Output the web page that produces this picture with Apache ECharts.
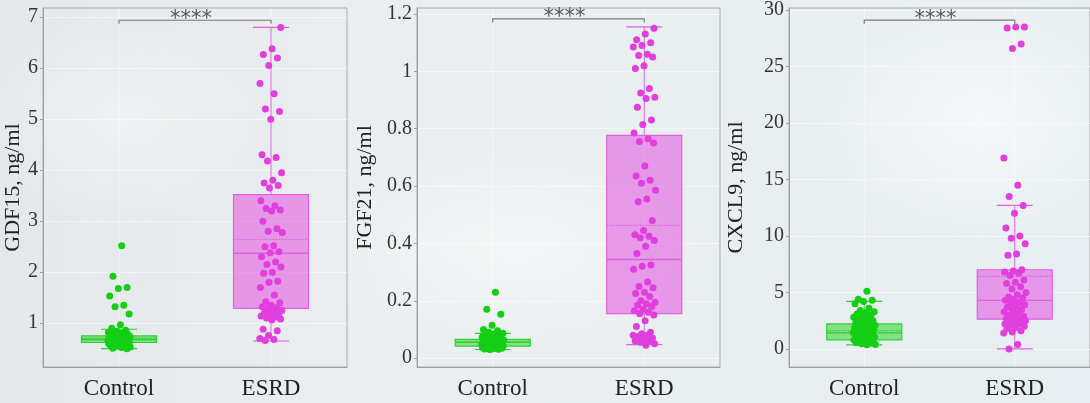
<!DOCTYPE html>
<html><head><meta charset="utf-8">
<script src="https://cdn.jsdelivr.net/npm/echarts@6/dist/echarts.min.js"></script>
<style>
html,body{margin:0;padding:0;width:1090px;height:403px;overflow:hidden;}
#c{width:1090px;height:403px;
background:
 radial-gradient(ellipse 260px 200px at 980px 120px, rgba(255,255,255,0.55), rgba(255,255,255,0) 70%),
 radial-gradient(ellipse 300px 160px at 520px 250px, rgba(255,255,255,0.45), rgba(255,255,255,0) 70%),
 radial-gradient(ellipse 200px 140px at 120px 120px, rgba(255,255,255,0.35), rgba(255,255,255,0) 70%),
 linear-gradient(90deg,#e5e8ea 0%,#ebeef0 35%,#e9eef0 60%,#e7eef1 100%);}
</style></head>
<body><div id="c"></div>
<script>
// ---------- data ----------
const categories = ['Control', 'ESRD'];
const yTitles = ['GDF15, ng/ml', 'FGF21, ng/ml', 'CXCL9, ng/ml'];
const sigLabel = '****';

const yTicks1 = [1, 2, 3, 4, 5, 6, 7];
const yTicks2 = [0, 0.2, 0.4, 0.6, 0.8, 1, 1.2];
const yTicks3 = [0, 5, 10, 15, 20, 25, 30];

// box stats: [min, Q1, median, Q3, max]
const box1 = [[0.50, 0.62, 0.68, 0.75, 0.88], [0.65, 1.29, 2.37, 3.52, 6.80]];
const box2 = [[0.030, 0.042, 0.055, 0.065, 0.086], [0.047, 0.155, 0.344, 0.777, 1.155]];
const box3 = [[0.35, 0.80, 1.42, 2.21, 4.21], [0.00, 2.63, 4.30, 7.01, 12.70]];
const mean1 = [0.70, 2.64];
const mean2 = [0.058, 0.463];
const mean3 = [1.62, 6.42];
const bracket1 = 6.94, bracket2 = 1.183, bracket3 = 29.1;

// individual points
const ctrl1 = [2.52, 1.92, 1.70, 1.68, 1.53, 1.35, 1.32, 1.18, 0.97, 0.90, 0.86, 0.84, 0.82, 0.80, 0.79, 0.78, 0.77, 0.76, 0.75, 0.75, 0.74, 0.73, 0.73, 0.72, 0.72, 0.71, 0.71, 0.70, 0.70, 0.69, 0.69, 0.68, 0.68, 0.67, 0.67, 0.66, 0.66, 0.65, 0.65, 0.64, 0.64, 0.63, 0.63, 0.62, 0.62, 0.61, 0.60, 0.60, 0.59, 0.58, 0.57, 0.56, 0.55, 0.54, 0.53, 0.52, 0.51, 0.50];
const esrd1 = [6.80, 6.38, 6.27, 6.20, 6.05, 5.70, 5.50, 5.20, 5.15, 5.00, 4.30, 4.25, 4.18, 3.95, 3.80, 3.75, 3.70, 3.65, 3.40, 3.30, 3.25, 3.22, 3.20, 3.00, 2.85, 2.80, 2.78, 2.52, 2.50, 2.40, 2.38, 2.30, 2.20, 2.15, 2.10, 2.00, 1.98, 1.82, 1.80, 1.70, 1.55, 1.42, 1.40, 1.35, 1.32, 1.30, 1.28, 1.25, 1.22, 1.20, 1.18, 1.16, 1.14, 1.12, 1.10, 1.08, 1.06, 0.88, 0.85, 0.76, 0.70, 0.68, 0.66];
const ctrl2 = [0.230, 0.170, 0.153, 0.115, 0.100, 0.095, 0.090, 0.087, 0.084, 0.081, 0.078, 0.076, 0.074, 0.072, 0.070, 0.068, 0.067, 0.066, 0.065, 0.064, 0.063, 0.062, 0.061, 0.060, 0.059, 0.058, 0.057, 0.056, 0.055, 0.054, 0.053, 0.052, 0.051, 0.050, 0.049, 0.048, 0.047, 0.046, 0.045, 0.044, 0.043, 0.042, 0.041, 0.040, 0.039, 0.038, 0.037, 0.036, 0.035, 0.034, 0.033, 0.032, 0.031, 0.030];
const esrd2 = [1.150, 1.130, 1.110, 1.100, 1.090, 1.085, 1.060, 1.055, 1.050, 1.020, 1.010, 0.940, 0.925, 0.910, 0.905, 0.875, 0.830, 0.815, 0.785, 0.765, 0.755, 0.750, 0.670, 0.635, 0.620, 0.610, 0.585, 0.555, 0.545, 0.480, 0.445, 0.430, 0.425, 0.420, 0.410, 0.390, 0.365, 0.325, 0.320, 0.310, 0.265, 0.250, 0.245, 0.230, 0.225, 0.215, 0.200, 0.195, 0.190, 0.185, 0.180, 0.170, 0.165, 0.160, 0.155, 0.150, 0.130, 0.110, 0.090, 0.085, 0.080, 0.080, 0.075, 0.070, 0.065, 0.060, 0.060, 0.055, 0.050, 0.045];
const ctrl3 = [5.10, 4.40, 4.30, 4.20, 4.00, 3.60, 3.40, 3.30, 3.20, 3.10, 3.00, 2.90, 2.80, 2.70, 2.60, 2.50, 2.40, 2.35, 2.30, 2.20, 2.10, 2.05, 2.00, 1.95, 1.90, 1.85, 1.80, 1.75, 1.70, 1.65, 1.60, 1.55, 1.50, 1.45, 1.40, 1.35, 1.30, 1.25, 1.20, 1.15, 1.10, 1.05, 1.00, 0.95, 0.90, 0.85, 0.80, 0.75, 0.70, 0.65, 0.60, 0.55, 0.50, 0.45, 0.40, 0.38];
const esrd3 = [28.5, 28.5, 28.4, 27.0, 26.6, 16.9, 14.5, 13.5, 12.7, 12.0, 10.7, 10.0, 9.8, 9.3, 8.4, 8.3, 7.0, 6.9, 6.8, 6.7, 6.5, 6.1, 5.9, 5.8, 5.5, 5.3, 5.0, 4.8, 4.6, 4.5, 4.4, 4.3, 4.1, 4.0, 3.9, 3.8, 3.7, 3.5, 3.4, 3.3, 3.2, 3.0, 2.9, 2.8, 2.7, 2.6, 2.5, 2.5, 2.4, 2.4, 2.3, 2.3, 2.2, 2.2, 2.1, 2.0, 1.9, 1.8, 1.6, 1.5, 1.4, 0.4, 0.0];

// ---------- styling ----------
const SERIF = '"Liberation Serif", "Times New Roman", serif';
const COL = [
  { pt: '#14cf14', fill: 'rgba(30,210,30,0.5)', line: '#2ed22e' },
  { pt: '#e03fde', fill: 'rgba(226,70,224,0.52)', line: '#e060e0' }
];

const panels = [
  { box: box1, mean: mean1, pts: [ctrl1, esrd1], ticks: yTicks1, min: 0.14, max: 7.18, bracket: bracket1, left: 43, width: 304, nameGap: 15 },
  { box: box2, mean: mean2, pts: [ctrl2, esrd2], ticks: yTicks2, min: -0.031, max: 1.221, bracket: bracket2, left: 417, width: 303, nameGap: 41 },
  { box: box3, mean: mean3, pts: [ctrl3, esrd3], ticks: yTicks3, min: -1.6, max: 30.18, bracket: bracket3, left: 789, width: 302, nameGap: 42 }
];

function jitter(i, cat) {
  const g = ((i + 1) * 0.6180339887 + cat * 0.31) % 1;
  return (g - 0.5) * 0.15;
}

function renderBox(params, api) {
  const cat = api.value(0);
  const c = v => api.coord([cat, v]);
  const x = c(api.value(1))[0];
  const yMin = c(api.value(1))[1], yQ1 = c(api.value(2))[1], yMed = c(api.value(3))[1],
        yQ3 = c(api.value(4))[1], yMax = c(api.value(5))[1], yMean = c(api.value(6))[1];
  const hw = 37.5, cw = 18;
  const col = COL[cat];
  const cs = params.coordSys;
  return {
    type: 'group',
    children: [
      { type: 'line', shape: { x1: x, y1: cs.y, x2: x, y2: cs.y + cs.height }, style: { stroke: 'rgba(255,255,255,0.45)', lineWidth: 1 }, z2: 0 },
      { type: 'line', shape: { x1: x, y1: yQ3, x2: x, y2: yMax }, style: { stroke: col.line, lineWidth: 1 } },
      { type: 'line', shape: { x1: x, y1: yQ1, x2: x, y2: yMin }, style: { stroke: col.line, lineWidth: 1 } },
      { type: 'line', shape: { x1: x - cw, y1: yMax, x2: x + cw, y2: yMax }, style: { stroke: col.line, lineWidth: 1.2 } },
      { type: 'line', shape: { x1: x - cw, y1: yMin, x2: x + cw, y2: yMin }, style: { stroke: col.line, lineWidth: 1.2 } },
      { type: 'rect', shape: { x: x - hw, y: yQ3, width: hw * 2, height: yQ1 - yQ3 }, style: { fill: col.fill, stroke: col.line, lineWidth: 1.2 } },
      { type: 'line', shape: { x1: x - hw, y1: yMed, x2: x + hw, y2: yMed }, style: { stroke: col.line, lineWidth: 1.4 } },
      { type: 'line', shape: { x1: x - hw, y1: yMean, x2: x + hw, y2: yMean }, style: { stroke: col.line, lineWidth: 1.2, lineDash: [1.5, 1.5] } }
    ]
  };
}

function renderBracket(params, api) {
  const y = api.value(2);
  const p0 = api.coord([api.value(0), y]);
  const p1 = api.coord([api.value(1), y]);
  return {
    type: 'group',
    children: [
      { type: 'polyline', shape: { points: [[p0[0], p0[1] + 3.5], [p0[0], p0[1]], [p1[0], p1[1]], [p1[0], p1[1] + 3.5]] }, style: { stroke: '#7a7a7a', lineWidth: 1.2, fill: null } },
      { type: 'text', x: (p0[0] + p1[0]) / 2 - 4, y: p0[1] - 1, style: { text: sigLabel, font: '21px "DejaVu Sans", sans-serif', fill: '#555', align: 'center', verticalAlign: 'middle' } }
    ]
  };
}

const grid = [], xAxis = [], yAxis = [], series = [];
panels.forEach((p, k) => {
  grid.push({ left: p.left, width: p.width, top: 8, bottom: 36, show: true, borderColor: '#a9a9a9', borderWidth: 1, backgroundColor: 'transparent' });
  xAxis.push({
    type: 'category', gridIndex: k, data: categories, boundaryGap: true,
    axisLine: { onZero: false, lineStyle: { color: '#a0a0a0' } },
    axisTick: { alignWithLabel: true, length: 4, lineStyle: { color: '#b0b0b0' } },
    axisLabel: { fontFamily: SERIF, fontSize: 23, color: '#222', margin: 10 },
    splitLine: { show: false }
  });
  xAxis.push({ type: 'value', gridIndex: k, min: -0.5, max: 1.5, show: false, splitLine: { show: false } });
  yAxis.push({
    type: 'value', gridIndex: k, min: p.min, max: p.max,
    name: yTitles[k], nameLocation: 'middle', nameGap: p.nameGap, nameRotate: 90,
    nameTextStyle: { fontFamily: SERIF, fontSize: 22, color: '#222' },
    axisLine: { show: true, onZero: false, lineStyle: { color: '#a0a0a0' } },
    axisTick: { show: true, length: 3, customValues: p.ticks, lineStyle: { color: '#a0a0a0' } },
    axisLabel: { customValues: p.ticks, fontFamily: SERIF, fontSize: 20, color: '#333', margin: 5 },
    splitLine: { show: true, lineStyle: { color: 'rgba(255,255,255,0.5)', width: 1 } }
  });
  series.push({
    type: 'custom', xAxisIndex: 2 * k, yAxisIndex: k, renderItem: renderBox, z: 2, silent: true,
    encode: { x: 0, y: [1, 2, 3, 4, 5, 6] },
    data: p.box.map((b, i) => [i, b[0], b[1], b[2], b[3], b[4], p.mean[i]])
  });
  p.pts.forEach((arr, cat) => {
    series.push({
      type: 'scatter', xAxisIndex: 2 * k + 1, yAxisIndex: k, z: 3, silent: true,
      symbolSize: 7, itemStyle: { color: COL[cat].pt, opacity: 1 },
      data: arr.map((v, i) => [cat + jitter(i, cat), v])
    });
  });
  series.push({
    type: 'custom', xAxisIndex: 2 * k, yAxisIndex: k, renderItem: renderBracket, z: 4, silent: true,
    encode: { x: [0, 1], y: 2 },
    data: [[0, 1, p.bracket]]
  });
});

const chart = echarts.init(document.getElementById('c'), null, { renderer: 'canvas' });
chart.setOption({ animation: false, backgroundColor: 'transparent', grid, xAxis, yAxis, series });
</script>
</body></html>
